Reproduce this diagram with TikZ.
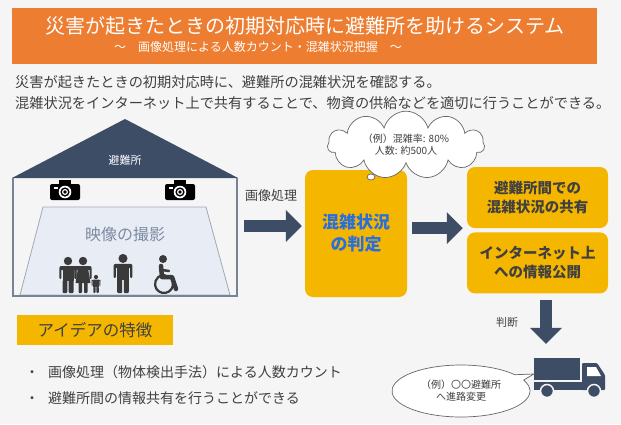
\documentclass[tikz,border=0pt]{standalone}
\usepackage{fontspec}
\setmainfont{Noto Sans CJK JP}
\usetikzlibrary{arrows.meta,positioning,shapes.geometric,shapes.symbols,shapes.callouts}

\definecolor{banner}{RGB}{237,125,49}
\definecolor{amber}{RGB}{245,182,0}
\definecolor{navy}{RGB}{62,77,102}
\definecolor{ink}{RGB}{64,64,64}
\definecolor{judgeblue}{RGB}{40,110,220}
\definecolor{wall}{RGB}{120,132,150}
\definecolor{viewfill}{RGB}{232,237,245}
\definecolor{viewtext}{RGB}{125,138,160}
\definecolor{paper}{RGB}{245,245,245}
\definecolor{figure}{RGB}{58,58,58}

\newcommand{\fsz}[2]{\fontsize{#1}{#2}\selectfont}

\tikzset{
  camera/.pic={
    \fill[black, rounded corners=2pt] (-15,-6) rectangle (15,10);
    \fill[black] (-6,-10) rectangle (6,-5);
    \fill[white] (-11,-3) rectangle (-7,-1);
    \fill[white] (0,2) circle (6.3);
    \fill[black] (0,2) circle (4.6);
    \fill[white] (0,2) circle (3);
    \fill[black] (0,2) circle (1.8);
  },
  walker/.pic={
    \fill[figure] (0,-32) circle (4.2);
    \fill[figure, rounded corners=2pt] (-8.7,-27) rectangle (8.7,-23);
    \fill[figure] (-5.5,-25) rectangle (5.5,-12);
    \fill[figure, rounded corners=1pt] (-8.7,-25) rectangle (-6.6,-14);
    \fill[figure, rounded corners=1pt] (6.6,-25) rectangle (8.7,-14);
    \fill[figure, rounded corners=1pt] (-5.5,-13) rectangle (-0.7,0);
    \fill[figure, rounded corners=1pt] (0.7,-13) rectangle (5.5,0);
  },
  mother/.pic={
    \fill[figure] (0,-32) circle (4.2);
    \fill[figure, rounded corners=2pt] (-8.7,-27) rectangle (8.7,-23);
    \fill[figure] (-5,-25) -- (5,-25) -- (7.5,-10) -- (-7.5,-10) -- cycle;
    \fill[figure, rounded corners=1pt] (-8.7,-25) rectangle (-6.6,-14);
    \fill[figure, rounded corners=1pt] (6.6,-25) rectangle (8.7,-14);
    \fill[figure, rounded corners=1pt] (-4.5,-11) rectangle (-1,0);
    \fill[figure, rounded corners=1pt] (1,-11) rectangle (4.5,0);
  },
  wheeler/.pic={
    \fill[figure] (-1,-25) circle (4);
    \draw[figure, line width=4.5pt, line cap=round, line join=round]
      (-3,-18) -- (-2,-7) -- (8,-7) -- (12,5);
    \draw[figure, line width=2.5pt, line cap=round] (-2,-14) -- (5,-13);
    \draw[figure, line width=2.2pt] (-10:9) arc[start angle=-10, end angle=280, radius=9];
  }
}

\begin{document}
\begin{tikzpicture}[x=1pt, y=-1pt,
  box/.style={fill=amber, rounded corners=8pt, align=center, inner sep=0pt},
  bubble/.style={draw=ink!80, fill=white, line width=0.7pt, align=center, text=ink, font=\fsz{10}{12}},
  blockarrow/.style={navy, line width=12pt, -{Triangle[length=16pt, width=31pt]}},
  tag/.style={text=ink, inner sep=0pt}
]
\fill[paper] (0,0) rectangle (621,424);
\useasboundingbox (0,0) rectangle (621,424);

% title banner
\fill[banner] (12,8) rectangle (597,64);
\node[text=white, font=\fsz{20}{24}] (title) at (305,26) {災害が起きたときの初期対応時に避難所を助けるシステム};
\node[text=white, font=\fsz{12}{14}] (subtitle) at (258,47) {～\quad 画像処理による人数カウント・混雑状況把握\quad ～};

% intro text
\node[tag, anchor=west, font=\fsz{14.2}{16}] (intro1) at (15,82) {災害が起きたときの初期対応時に、避難所の混雑状況を確認する。};
\node[tag, anchor=west, font=\fsz{14.2}{16}] (intro2) at (15,103) {混雑状況をインターネット上で共有することで、物資の供給などを適切に行うことができる。};

% shelter with cameras
\fill[navy] (12,178) -- (125,119) -- (238,178) -- cycle;
\node[text=white, font=\fsz{11}{12}] (roof) at (125,160) {避難所};
\draw[wall, line width=1.6pt] (13,178) -- (13,296) -- (237,296) -- (237,178);
\filldraw[fill=viewfill, draw=wall!70, line width=0.8pt] (43,207) -- (206,207) -- (230,295) -- (20,295) -- cycle;
\draw[wall, line width=2pt] (13,296) -- (237,296);
\pic at (65,190) {camera};
\pic at (180,190) {camera};
\node[text=viewtext, font=\fsz{16}{18}] (capture) at (125,234) {映像の撮影};

% people
\pic at (68,293) {walker};
\pic at (83,293) {mother};
\pic[scale=0.5] at (96,293) {walker};
\pic[scale=1.08] at (123,293) {walker};
\pic at (164,284) {wheeler};

% flow boxes
\node[box, minimum width=102pt, minimum height=127pt, text=judgeblue, font=\bfseries\fsz{17}{22}] (judge) at (356,233.5) {混雑状況\\の判定};
\node[box, minimum width=141pt, minimum height=61pt, text=ink, font=\bfseries\fsz{14.5}{19}] (share) at (537.5,197.5) {避難所間での\\混雑状況の共有};
\node[box, minimum width=141pt, minimum height=61pt, text=ink, font=\bfseries\fsz{14.5}{19}, below=4pt of share] (publish) {インターネット上\\への情報公開};

% thought cloud
\node[bubble, cloud, cloud puffs=11, aspect=3.2, minimum width=157pt, minimum height=48pt] (rate) at (406,145) {（例）混雑率: 80\%\\人数: 約500人};
\node[ellipse, draw=ink!80, fill=white, line width=0.7pt, minimum width=8pt, minimum height=6pt, inner sep=0pt] (puff) at (371,177) {};

% truck
\node[minimum width=71pt, minimum height=34pt, inner sep=0pt] (truck) at (569.5,374) {};
\fill[navy] (534,358) rectangle (580,380);
\fill[navy] (534,382) rectangle (604,390);
\fill[navy, rounded corners=1pt] (582,363) -- (597,363) -- (605,375) -- (605,390) -- (582,390) -- cycle;
\fill[white] (587,367) -- (596,367) -- (601,376) -- (587,376) -- cycle;
\foreach \wx in {547,594}
  \filldraw[fill=navy, draw=paper, line width=1.5pt] (\wx,391) circle (6.5);

% speech bubble
\node[bubble, ellipse callout, callout absolute pointer={(truck.west)}, callout pointer arc=14, minimum width=138pt, minimum height=52pt] (reroute) at (461,391) {（例）〇〇避難所\\へ進路変更};

% arrows
\coordinate (shot) at (244,226);
\coordinate (drop) at (546,293);
\draw[blockarrow, shorten >=3pt] (shot) -- (shot -| judge.west);
\draw[blockarrow, shorten <=5pt, shorten >=4pt] (judge.east |- share.south west) -- (share.south west);
\draw[blockarrow, shorten <=7pt, shorten >=13pt] (drop) -- (drop |- truck.north);
\node[tag, font=\fsz{13}{14}] (proc) at (271,196) {画像処理};
\node[tag, font=\fsz{11}{12}] (decide) at (507,322) {判断};

% features
\node[fill=amber, minimum width=156pt, minimum height=30pt, font=\fsz{16.5}{18}, text=ink] (features) at (95,330) {アイデアの特徴};
\node[tag, anchor=west, font=\fsz{14}{16}] (point1) at (25,372) {・\hspace{9pt}画像処理（物体検出手法）による人数カウント};
\node[tag, anchor=west, font=\fsz{14}{16}] (point2) at (25,398) {・\hspace{9pt}避難所間の情報共有を行うことができる};
\end{tikzpicture}
\end{document}
